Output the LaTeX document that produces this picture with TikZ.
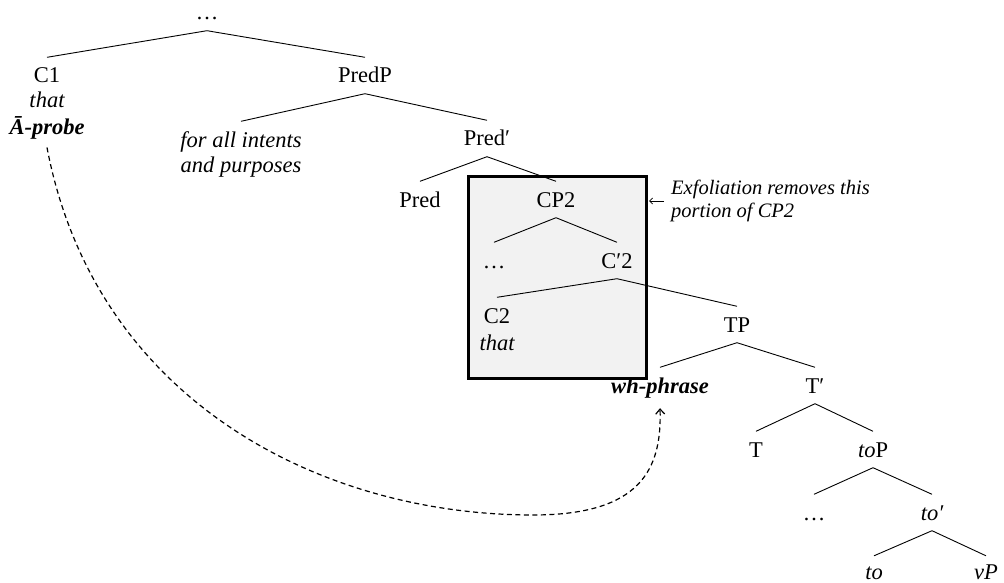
\documentclass[tikz,border=0pt]{standalone}
\usepackage{fontspec}
\setmainfont{Liberation Serif}
\usetikzlibrary{arrows.meta}
\definecolor{boxgray}{RGB}{242,242,242}
\newcommand\tsz{\fontsize{22.5}{26}\selectfont}
\newcommand\nsz{\fontsize{20.5}{23}\selectfont}
\tikzset{
  tn/.style={font=\tsz, text height=15pt, text depth=0pt, inner xsep=2pt, inner ysep=10.5pt, anchor=base},
  lbl/.style={font=\tsz, inner sep=1pt, anchor=base},
  edge/.style={line width=0.9pt},
  movearrow/.style={dashed, dash pattern=on 5pt off 3.5pt, line width=1.2pt, -{Straight Barb[length=5pt,width=9pt]}},
  notearrow/.style={line width=0.8pt, -{Straight Barb[length=3pt,width=6pt]}},
  notetext/.style={font=\nsz\itshape, align=left, inner xsep=7pt, inner ysep=0pt, anchor=west},
  exbox/.style={draw, line width=3pt, fill=boxgray, minimum width=178pt, minimum height=202pt, inner sep=0pt}
}
\begin{document}
\begin{tikzpicture}[x=1pt,y=-1pt]
\useasboundingbox (0,0) rectangle (1004,583);
% box (behind)
\node[exbox] (box) at (557,277) {};
% tree nodes
\node[tn] (root) at (207,20) {\ldots};
\node[tn] (c1) at (47,83) {C1};
\node[lbl] (c1that) at (47,108) {\itshape that};
\node[lbl] (probe) at (47,135) {\bfseries\itshape Ā-probe};
\node[tn] (predp) at (365,83) {PredP};
\node[tn] (fai) at (241,147) {\itshape for all intents};
\node[lbl] (aap) at (241,172) {\itshape and purposes};
\node[tn] (predbar) at (487,146) {Pred′};
\node[tn] (pred) at (420,207) {Pred};
\node[tn] (cp2) at (556,207) {CP2};
\node[tn] (dots2) at (494,268) {\ldots};
\node[tn] (cbar2) at (617,268) {C′2};
\node[tn] (c2) at (497,323) {C2};
\node[lbl] (c2that) at (497,350) {\itshape that};
\node[tn] (tp) at (737,332) {TP};
\node[tn] (wh) at (660,393) {\bfseries\itshape wh-phrase};
\node[tn] (tbar) at (815,393) {T′};
\node[tn] (t) at (756,457) {T};
\node[tn] (toP) at (873,457) {\textit{to}P};
\node[tn] (dots3) at (814,520) {\ldots};
\node[tn] (tobar) at (932,520) {\itshape to′};
\node[tn, inner ysep=8pt] (to) at (874,579) {\itshape to};
\node[tn, inner ysep=8pt] (vp) at (986,579) {\itshape vP};
% edges
\foreach \p/\c in {root/c1, root/predp, predp/fai, predp/predbar, predbar/pred, predbar/cp2,
  cp2/dots2, cp2/cbar2, cbar2/c2, cbar2/tp, tp/wh, tp/tbar, tbar/t, tbar/toP,
  toP/dots3, toP/tobar, tobar/to, tobar/vp}
  \draw[edge] (\p.south) -- (\c.north);
% annotation
\node[notetext] (note) at (664,201) {Exfoliation removes this\\portion of CP2};
\draw[notearrow] (note.west) -- ([xshift=1.5pt]note.west -| box.east);
% movement arrow
\coordinate (low) at (533,515);
\draw[movearrow] ([yshift=-6.5pt]probe.south) .. controls (95,400) and (320,515) .. (low)
  .. controls (640,515) and (662,470) .. ([yshift=-4.5pt]wh.south);
\end{tikzpicture}
\end{document}
